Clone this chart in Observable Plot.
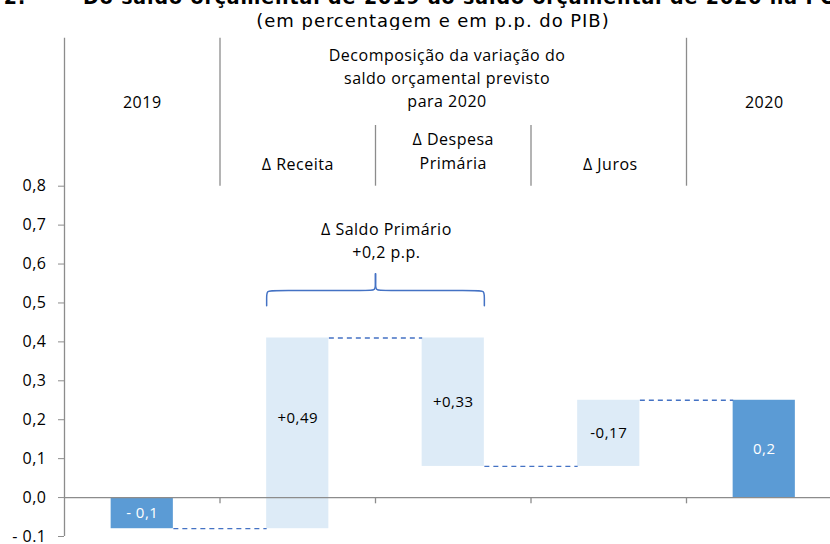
<!DOCTYPE html>
<html>
<head>
<meta charset="utf-8">
<script src="https://cdn.jsdelivr.net/npm/d3@7"></script>
<script src="https://cdn.jsdelivr.net/npm/@observablehq/plot@0.6"></script>
<style>
  html, body { margin: 0; padding: 0; background: #fff; }
  body { width: 830px; height: 544px; overflow: hidden; position: relative; }
  #head { position: relative; width: 830px; height: 30px; overflow: hidden; }
  .t { position: absolute; top: -14px; white-space: nowrap; font: bold 19px "DejaVu Sans", sans-serif; color: #000; line-height: 22px; letter-spacing: 0.9px; }
  #t1 { right: 804px; }
  #t2 { left: 83px; }
  #sub { position: absolute; top: 11px; left: 0; width: 866px; text-align: center; white-space: nowrap;
         font: 18px "DejaVu Sans", sans-serif; color: #000; line-height: 20px; letter-spacing: 0.95px; }
  #chart svg { display: block; }
</style>
</head>
<body>
<div id="head">
  <div class="t" id="t1">Gráfico 2.</div>
  <div class="t" id="t2">Do saldo orçamental de 2019 ao saldo orçamental de 2020 na POE/2020</div>
  <div id="sub">(em percentagem e em p.p. do PIB)</div>
</div>
<div id="chart"></div>
<script>
// ---- data ----
const categories = ["2019", "Δ Receita", "Δ Despesa Primária", "Δ Juros", "2020"];
const values = [-0.08, 0.49, -0.33, 0.17, 0.25];
const isTotal = [true, false, false, false, true];
const valueLabels = ["- 0,1", "+0,49", "+0,33", "-0,17", "0,2"];
const yTicks = [-0.1, 0, 0.1, 0.2, 0.3, 0.4, 0.5, 0.6, 0.7, 0.8];
const yTickLabels = ["- 0.1", "0,0", "0,1", "0,2", "0,3", "0,4", "0,5", "0,6", "0,7", "0,8"];
const headerTop = ["2019", "Decomposição da variação do\nsaldo orçamental previsto\npara 2020", "2020"];
const headerSub = ["Δ Receita", "Δ Despesa\nPrimária", "Δ Juros"];
const braceLabel = "Δ Saldo Primário\n+0,2 p.p.";

// ---- layout constants ----
const HW = 0.2;            // half bar width (category units)
const DARK = "#5B9BD5", LIGHT = "#DDEBF7", LINE = "#4472C4", AXIS = "#8C8C8C";
const Y_TOP = 1.18, Y_SUB = 0.956, Y_HEAD = 0.8;

// waterfall table
let run = 0;
const bars = categories.map((c, i) => {
  let lo, hi, end;
  if (isTotal[i]) { lo = 0; hi = values[i]; end = values[i]; }
  else { lo = run; hi = run + values[i]; end = hi; }
  run = end;
  const a = Math.min(lo, hi), b = Math.max(lo, hi);
  return {i, cat: c, y1: lo, y2: hi, end, total: isTotal[i], label: valueLabels[i],
          ly: b <= 0 ? (a + b) / 2 : (Math.max(a, 0) + b) / 2};
});
const links = bars.slice(0, -1).map((d, k) => ({x1: d.i + 0.5 + HW, x2: bars[k + 1].i + 0.5 - HW, y: d.end}));

const heads = [
  {x: 0.5, y: 1.02, text: headerTop[0]},
  {x: 2.46, y: 1.082, text: headerTop[1]},
  {x: 4.5, y: 1.02, text: headerTop[2]},
  {x: 1.5, y: 0.861, text: headerSub[0]},
  {x: 2.5, y: 0.894, text: headerSub[1]},
  {x: 3.51, y: 0.861, text: headerSub[2]}
];

// brace over Δ Receita and Δ Despesa Primária
const bx1 = 1.5 - HW, bx2 = 2.5 + HW, bxc = (bx1 + bx2) / 2;
const yb = 0.493, yh = 0.532, yt = 0.575, r = 0.045;
function half(xEnd, dir, side) {
  return [
    [xEnd, yb], [xEnd, yb], [xEnd, yh - 0.02], [xEnd, yh], [xEnd + dir * r, yh],
    [bxc - dir * r, yh], [bxc, yh], [bxc, yh + 0.02], [bxc, yt], [bxc, yt]
  ].map(([x, y]) => ({x, y, side}));
}
const brace = [...half(bx1, 1, "L"), ...half(bx2, -1, "R")];

const xMax = 766 / 155.5;
const chart = Plot.plot({
  width: 830, height: 514,
  marginLeft: 64, marginRight: 0, marginTop: 0, marginBottom: 8,
  x: {domain: [0, xMax], axis: null},
  y: {domain: [-0.1, 1.2], axis: null},
  style: {fontFamily: "'Open Sans', sans-serif", fontSize: "16px", color: "#000", background: "#fff",
          letterSpacing: "0.5px"},
  marks: [
    Plot.rect(bars, {x1: d => d.i + 0.5 - HW, x2: d => d.i + 0.5 + HW, y1: "y1", y2: "y2",
                     fill: d => d.total ? DARK : LIGHT}),
    Plot.ruleY([0], {x1: 0, x2: xMax, stroke: AXIS, strokeWidth: 1.3}),
    Plot.ruleX([1, 2, 3, 4], {y1: 0, y2: -0.016, stroke: AXIS, strokeWidth: 1.3}),
    Plot.ruleX([0], {y1: -0.1, y2: Y_TOP, stroke: AXIS, strokeWidth: 1.3}),
    Plot.ruleX([1, 4], {y1: Y_HEAD, y2: Y_TOP, stroke: AXIS, strokeWidth: 1.3}),
    Plot.ruleX([2, 3], {y1: Y_HEAD, y2: Y_SUB, stroke: AXIS, strokeWidth: 1.3}),
    Plot.axisY({ticks: yTicks, tickFormat: (d, i) => yTickLabels[i], tickSize: 6, tickPadding: 12,
                stroke: AXIS, fill: "#000", fontSize: 16, label: null}),
    Plot.link(links, {x1: "x1", x2: "x2", y1: "y", y2: "y", stroke: LINE, strokeWidth: 1.3,
                      strokeDasharray: "5,4"}),
    Plot.text(bars, {x: d => d.i + 0.5, y: "ly", text: "label", fill: d => d.total ? "#fff" : "#000",
                     fontSize: 15}),
    Plot.text(heads, {x: "x", y: "y", text: "text", lineHeight: 1.45, fontSize: 16, fill: "#000"}),
    Plot.line(brace, {x: "x", y: "y", z: "side", curve: "basis", stroke: LINE, strokeWidth: 1.5}),
    Plot.text([braceLabel], {x: 2.07, y: 0.6645, text: d => d, lineHeight: 1.45, fontSize: 16, fill: "#000"})
  ]
});
document.getElementById("chart").appendChild(chart);
</script>
</body>
</html>
